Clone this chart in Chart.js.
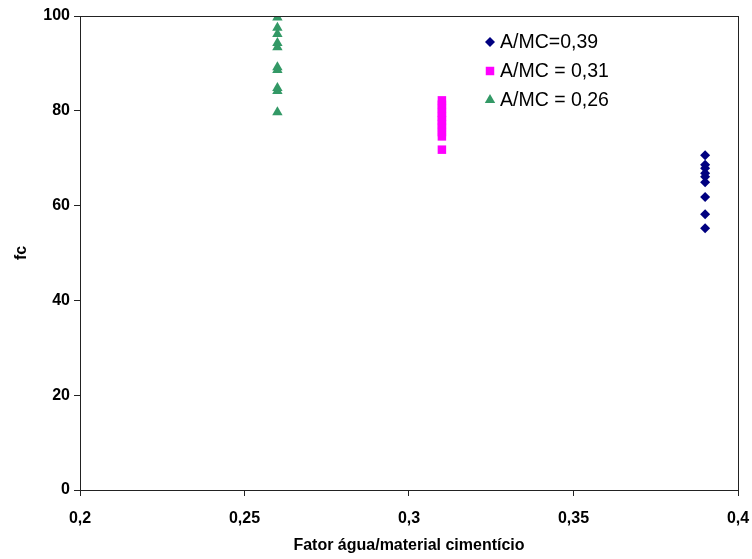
<!DOCTYPE html>
<html>
<head>
<meta charset="utf-8">
<script src="https://cdn.jsdelivr.net/npm/chart.js@4/dist/chart.umd.min.js"></script>
<style>
  html, body { margin: 0; padding: 0; background: #fff; }
  #wrap { width: 752px; height: 559px; }
</style>
</head>
<body>
<div id="wrap"><canvas id="fcChart" width="752" height="559"></canvas></div>
<script>
// fc values, one x value per series
const labels039 = "A/MC=0,39";
const labels031 = "A/MC = 0,31";
const labels026 = "A/MC = 0,26";
const x039 = 0.39, x031 = 0.31, x026 = 0.26;
const fc039 = [70.6, 68.6, 67.9, 66.8, 66.1, 64.9, 61.8, 58.2, 55.2];
const fc031 = [82.2, 81.3, 80.5, 79.6, 78.8, 78.0, 77.2, 76.4, 75.5, 74.6, 71.8];
const fc026 = [99.7, 97.5, 96.2, 94.3, 93.4, 89.2, 88.6, 84.8, 84.2, 79.7];
const xTicks = [0.2, 0.25, 0.3, 0.35, 0.4];
const yTicks = [0, 20, 40, 60, 80, 100];

const toPoints = (x, arr) => arr.map(v => ({ x: x, y: v }));
const axisFont = { family: "'Liberation Sans', Arial, sans-serif", size: 16, weight: "bold" };

// box around the plot area
const frame = {
    id: "frame",
    afterDraw(chart) {
        const a = chart.chartArea, ctx = chart.ctx;
        ctx.save();
        ctx.strokeStyle = "#222";
        ctx.lineWidth = 1;
        ctx.strokeRect(a.left + 0.5, a.top + 0.5, a.right - a.left, a.bottom - a.top);
        ctx.restore();
    }
};

// legend drawn inside the plot, top right
const innerLegend = {
    id: "innerLegend",
    afterDraw(chart) {
        const ctx = chart.ctx;
        ctx.save();
        ctx.font = "19.5px 'Liberation Sans', Arial, sans-serif";
        ctx.textBaseline = "middle";
        chart.data.datasets.forEach((ds, i) => {
            const y = 42 + i * 29;
            ctx.fillStyle = ds.backgroundColor;
            ctx.strokeStyle = ds.borderColor;
            Chart.helpers.drawPoint(ctx, { pointStyle: ds.pointStyle, radius: ds.pointRadius, borderWidth: 0 }, 490, y);
            ctx.fillStyle = "#000";
            ctx.fillText(ds.label, 500, y + 1);
        });
        ctx.restore();
    }
};

new Chart(document.getElementById("fcChart"), {
    type: "scatter",
    data: {
        datasets: [
            { label: labels039, data: toPoints(x039, fc039), pointStyle: "rectRot", pointRadius: 5,
              backgroundColor: "#000080", borderColor: "#000080", borderWidth: 0 },
            { label: labels031, data: toPoints(x031, fc031), pointStyle: "rect", pointRadius: 6,
              backgroundColor: "#ff00ff", borderColor: "#ff00ff", borderWidth: 0 },
            { label: labels026, data: toPoints(x026, fc026), pointStyle: "triangle", pointRadius: 6,
              backgroundColor: "#339966", borderColor: "#339966", borderWidth: 0 }
        ]
    },
    options: {
        responsive: false,
        animation: false,
        layout: { padding: { top: 16, right: 14, left: 8, bottom: 0 } },
        plugins: { legend: { display: false }, tooltip: { enabled: false } },
        scales: {
            x: {
                type: "linear", min: 0.2, max: 0.4,
                afterBuildTicks: s => { s.ticks = xTicks.map(v => ({ value: v })); },
                afterFit: s => { s.height = 69; s.paddingRight = 0; s.paddingLeft = 0; },
                ticks: { color: "#000", font: axisFont, padding: 13, maxRotation: 0,
                         callback: v => String(v).replace(".", ",") },
                grid: { drawOnChartArea: false, tickLength: 6, color: "#222" },
                border: { color: "#222" },
                title: { display: true, text: "Fator água/material cimentício", color: "#000",
                         font: axisFont, padding: { top: 15 } }
            },
            y: {
                type: "linear", min: 0, max: 100,
                afterBuildTicks: s => { s.ticks = yTicks.map(v => ({ value: v })); },
                afterFit: s => { s.width = 72; },
                ticks: { color: "#000", font: axisFont, padding: 4 },
                grid: { drawOnChartArea: false, tickLength: 6, color: "#222" },
                border: { color: "#222" },
                title: { display: true, text: "fc", color: "#000", font: axisFont, padding: { bottom: 18 } }
            }
        }
    },
    plugins: [frame, innerLegend]
});
</script>
</body>
</html>
